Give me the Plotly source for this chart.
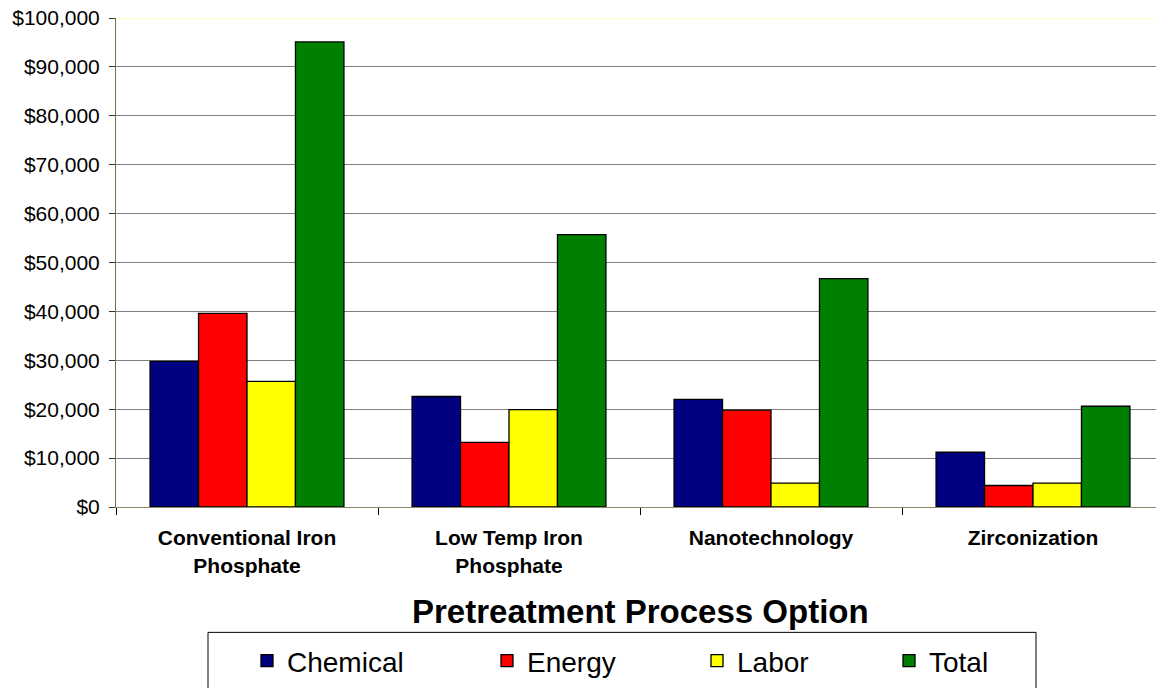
import plotly.graph_objects as go

categories = ["Conventional Iron<br>Phosphate", "Low Temp Iron<br>Phosphate", "Nanotechnology", "Zirconization"]
chemical = [29800, 22600, 22000, 11200]
energy = [39600, 13200, 19800, 4400]
labor = [25700, 19900, 4900, 4900]
total = [95100, 55700, 46700, 20600]
series_names = ["Chemical", "Energy", "Labor", "Total"]
series_colors = ["#000080", "#FF0000", "#FFFF00", "#008000"]

W, H = 1156, 688
L, T = 116, 18
fig_bottom = 507.5
CAT_W = 262.0
R = 0
B = H - fig_bottom
plot_w = W - L - R
plot_h = fig_bottom - T

def px_x(px):
    return (px - L) / plot_w

def px_y(py):
    return (fig_bottom - py) / plot_h

FONT = "Liberation Sans, Arial, sans-serif"

# legend symbol centres (px)
legend_centres = [267, 507, 717, 909]
legend_keys = ["legend", "legend2", "legend3", "legend4"]

fig = go.Figure()
for name, vals, col, lk in zip(series_names, [chemical, energy, labor, total], series_colors, legend_keys):
    fig.add_trace(go.Bar(
        x=categories, y=vals, name=name, legend=lk,
        marker=dict(color=col, line=dict(color="#000000", width=1.3)),
    ))

legend_top = 636
legends = {}
for lk, cx in zip(legend_keys, legend_centres):
    legends[lk] = dict(
        orientation="h",
        xref="container", yref="container",
        x=(cx - 20) / W, xanchor="left",
        y=1 - legend_top / H, yanchor="top",
        font=dict(family=FONT, size=28, color="black"),
        bgcolor="rgba(0,0,0,0)",
        borderwidth=0,
    )

fig.update_layout(
    width=W, height=H,
    margin=dict(l=L, r=R, t=T, b=B, pad=0, autoexpand=False),
    paper_bgcolor="white", plot_bgcolor="white",
    barmode="group", bargap=0.26, bargroupgap=0,
    font=dict(family=FONT, color="black"),
    showlegend=True,
    xaxis=dict(
        type="category",
        automargin=False,
        range=[-0.5, -0.5 + plot_w / CAT_W],
        tickson="boundaries",
        ticks="outside", ticklen=7, tickcolor="#000000", tickwidth=1,
        showline=True, linecolor="#8a8a6a", linewidth=1,
        showgrid=False,
        tickfont=dict(family=FONT, size=21, color="black", weight="bold"),
        ticklabelstandoff=12,
    ),
    yaxis=dict(
        automargin=False,
        range=[0, 100000], dtick=10000,
        tickprefix="$", tickformat=",",
        ticks="outside", ticklen=6, tickcolor="#333333",
        showline=True, linecolor="#6f6f4f", linewidth=1,
        showgrid=True, gridcolor="#808080", gridwidth=1,
        zeroline=False,
        tickfont=dict(family=FONT, size=21, color="black"),
        ticklabelstandoff=5,
        ticklabeloverflow="allow",
    ),
    shapes=[
        dict(type="line", xref="paper", yref="y", x0=0, x1=1, y0=100000, y1=100000,
             line=dict(color="#FFFFB0", width=1.5), layer="above"),
        dict(type="rect", xref="paper", yref="paper",
             x0=px_x(208), x1=px_x(1036), y0=px_y(700), y1=px_y(633),
             line=dict(color="#000000", width=1), fillcolor="rgba(0,0,0,0)"),
    ],
    annotations=[
        dict(text="Pretreatment Process Option", xref="paper", yref="paper",
             x=px_x(640), y=px_y(612), xanchor="center", yanchor="middle",
             showarrow=False, font=dict(family=FONT, size=33, color="black", weight="bold")),
    ],
    **legends,
)

fig.write_html(
    "out.html",
    config={"displayModeBar": False},
    post_script="document.body.style.margin='0';document.body.style.overflow='hidden';",
)
